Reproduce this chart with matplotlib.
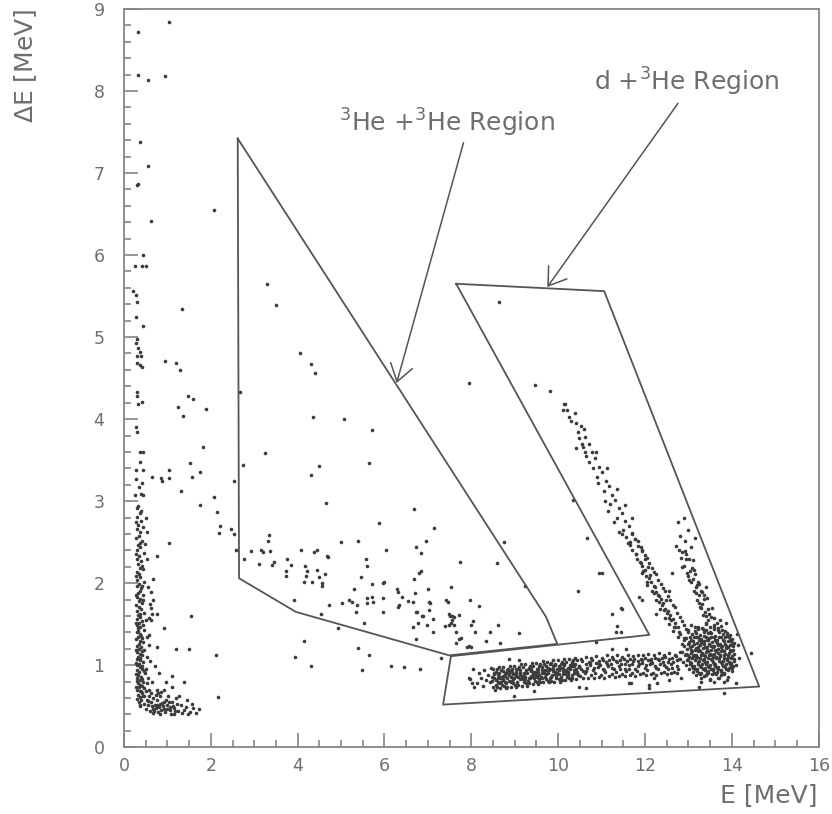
import numpy as np
import matplotlib
matplotlib.use('Agg')
import matplotlib.pyplot as plt
from matplotlib.ticker import MultipleLocator

# ---- data: (E [MeV], dE [MeV]) ----
far_left = [(1.04,8.84),(0.32,8.72),(0.32,8.19),(0.55,8.13),(0.94,8.18),(0.37,7.38),(0.55,7.09),
    (0.30,6.85),(0.33,6.87),(0.62,6.42),(2.07,6.55),(0.44,6.00),(0.25,5.87),(0.41,5.87),(0.50,5.87),
    (0.21,5.56),(0.28,5.51),(0.30,5.43),(0.28,5.24),(0.44,5.13),(0.30,4.98),(0.28,4.93),(0.32,4.87),
    (0.37,4.82),(0.30,4.77),(0.39,4.77),(0.30,4.68),(0.37,4.66),(0.41,4.63),(1.34,5.34),(0.94,4.71),
    (1.20,4.68),(1.29,4.60),(0.30,4.33),(0.30,4.28),(0.32,4.18),(0.41,4.21),(1.47,4.28),(1.59,4.24),
    (1.24,4.15),(1.36,4.04),(1.89,4.12),(0.28,3.90),(0.30,3.84),(1.82,3.66),(0.37,3.60),(0.44,3.60),
    (0.37,3.48),(1.52,3.46),(0.28,3.38),(0.44,3.38),(1.04,3.38),(0.65,3.29),(0.85,3.28),(0.88,3.24),
    (1.04,3.28),(1.57,3.30),(1.75,3.35),(0.28,3.27),(0.35,3.17),(0.41,3.22),(0.39,3.09),(0.44,3.07),
    (0.25,3.07),(1.31,3.12),(2.53,3.24),(2.07,3.05),(1.75,2.95),(2.14,2.87),(0.32,2.94),(2.21,2.70),
    (2.19,2.61),(2.47,2.66),(2.53,2.60),(1.04,2.49),(2.58,2.41),(2.76,2.30),(0.62,1.89),(0.67,1.80),
    (0.60,1.75),(0.65,1.63),(0.76,1.62),(0.62,1.55),(0.92,1.45),(0.58,1.37),(0.76,1.22),(1.20,1.20),
    (1.50,1.20),(1.54,1.60),(0.71,0.99),(0.81,0.90),(1.10,0.87),(1.38,0.80),(0.97,0.79),(1.10,0.74),
    (0.76,0.70),(0.92,0.70),(0.78,0.66),(2.12,1.12),(2.17,0.61),(2.67,4.33),(2.74,3.44),(3.29,5.65),
    (3.50,5.39)]

left_band = [(0.31,2.92),(0.36,2.85),(0.29,2.81),(0.40,2.76),(0.33,2.71),(0.30,2.66),(0.38,2.63),
    (0.35,2.58),(0.28,2.55),(0.42,2.52),(0.33,2.47),(0.37,2.44),(0.30,2.40),(0.45,2.37),(0.34,2.33),
    (0.29,2.30),(0.39,2.27),(0.32,2.23),(0.36,2.19),(0.43,2.17),(0.30,2.14),(0.35,2.11),(0.38,2.07),
    (0.31,2.04),(0.47,2.02),(0.34,1.99),(0.29,1.96),(0.40,1.94),(0.36,1.91),(0.32,1.88),(0.44,1.86),
    (0.30,1.83),(0.37,1.81),(0.34,1.78),(0.41,1.76),(0.28,1.73),(0.35,1.71),(0.39,1.68),(0.31,1.66),
    (0.46,1.64),(0.33,1.61),(0.37,1.59),(0.29,1.56),(0.42,1.54),(0.35,1.52),(0.31,1.49),(0.38,1.47),
    (0.33,1.45),(0.45,1.43),(0.30,1.40),(0.36,1.38),(0.40,1.36),(0.32,1.34),(0.28,1.32),(0.37,1.30),
    (0.43,1.28),(0.34,1.26),(0.30,1.24),(0.39,1.22),(0.35,1.20),(0.47,1.18),(0.31,1.16),(0.36,1.14),
    (0.41,1.12),(0.33,1.10),(0.29,1.08),(0.38,1.06),(0.44,1.04),(0.34,1.02),(0.31,1.00),(0.37,0.98),
    (0.42,0.96),(0.30,0.94),(0.35,0.92),(0.48,0.90),(0.33,0.88),(0.39,0.86),(0.29,0.84),(0.36,0.82),
    (0.43,0.80),(0.32,0.78),(0.38,0.76),(0.34,0.74),(0.46,0.72),(0.30,0.70),(0.37,0.68),(0.41,0.66),
    (0.33,0.64),(0.36,0.61),(0.40,0.58),(0.34,0.55),(0.38,0.52),
    (0.40,2.88),(0.27,2.74),(0.44,2.68),(0.38,2.49),(0.27,2.36),(0.41,2.21),(0.27,2.09),(0.42,1.97),
    (0.27,1.85),(0.43,1.79),(0.38,1.63),(0.27,1.51),(0.43,1.49),(0.33,1.42),(0.42,1.33),(0.27,1.19),
    (0.42,1.17),(0.38,1.09),(0.27,1.03),(0.41,0.99),(0.45,0.93),(0.27,0.89),(0.41,0.83),(0.31,0.81),
    (0.27,0.73),(0.42,0.75),(0.39,0.69),(0.44,0.62),(0.31,0.59),(0.36,0.50),
    (0.52,2.30),(0.55,1.95),(0.58,1.58),(0.62,1.70),(0.50,1.55),(0.53,1.35),(0.57,1.25),(0.54,1.10),
    (0.60,1.05),(0.51,0.95),(0.56,0.85),(0.65,0.80),(0.52,0.78),(0.50,0.68),(0.58,0.70),(0.66,2.05),
    (0.75,2.33),(0.48,2.48),(0.52,2.62),(0.50,2.80)]

left_blob = [(0.45,0.62),(0.52,0.58),(0.58,0.63),(0.63,0.55),(0.68,0.60),(0.71,0.52),(0.75,0.57),
    (0.80,0.49),(0.84,0.62),(0.88,0.54),(0.92,0.47),(0.96,0.58),(1.00,0.51),(1.05,0.45),(1.10,0.55),
    (1.15,0.48),(1.20,0.60),(1.25,0.44),(1.31,0.52),(1.38,0.46),(1.45,0.57),(1.52,0.43),(1.60,0.48),
    (1.67,0.42),(0.50,0.47),(0.55,0.51),(0.60,0.44),(0.66,0.47),(0.70,0.44),(0.74,0.48),(0.78,0.43),
    (0.82,0.53),(0.86,0.45),(0.90,0.50),(0.95,0.43),(0.99,0.47),(1.03,0.55),(1.08,0.41),(1.13,0.50),
    (1.18,0.44),(1.23,0.53),(1.34,0.42),(1.42,0.49),(1.57,0.53),(1.72,0.47),(0.62,0.66),(0.73,0.64),
    (0.86,0.67),(1.02,0.63),(1.27,0.62),(0.47,0.53),(0.56,0.56),(0.64,0.50),(0.77,0.52),(0.93,0.55),
    (1.06,0.49),(1.16,0.41),(1.48,0.41),(0.68,0.42),(0.83,0.41)]

he3_region = [(4.06,4.80),(4.31,4.67),(4.40,4.56),(4.35,4.02),(5.07,4.00),(5.71,3.87),(3.25,3.59),
    (4.49,3.43),(4.31,3.32),(5.65,3.46),(4.65,2.98),(6.68,2.91),(5.88,2.73),(7.14,2.67),(2.93,2.39),
    (3.16,2.41),(3.20,2.38),(3.36,2.39),(3.34,2.59),(3.32,2.52),(3.11,2.23),(3.41,2.22),(3.46,2.26),
    (3.76,2.29),(3.85,2.22),(3.73,2.15),(3.73,2.09),(4.08,2.41),(4.38,2.38),(4.45,2.40),(4.17,2.21),
    (4.22,2.15),(4.19,2.09),(4.15,2.01),(4.33,2.01),(4.45,2.16),(4.49,2.07),(4.56,2.00),(4.63,2.11),
    (4.56,1.96),(3.92,1.79),(6.96,2.52),(5.00,2.50),(5.39,2.51),(4.68,2.33),(4.70,2.32),(6.04,2.40),
    (6.73,2.44),(6.84,2.37),(5.58,2.29),(5.60,2.21),(5.46,2.07),(7.74,2.26),(8.59,2.24),(8.76,2.50),
    (6.84,2.15),(6.80,2.12),(6.68,2.05),(5.71,1.99),(5.97,2.00),(5.30,1.93),(6.29,1.93),(6.31,1.89),
    (6.41,1.83),(6.71,1.88),(6.66,1.77),(6.54,1.78),(7.00,1.93),(7.03,1.77),(7.05,1.76),(7.53,1.95),
    (7.42,1.80),(7.47,1.77),(7.97,1.79),(8.18,1.72),(9.24,1.96),(4.72,1.73),(5.02,1.76),(5.18,1.79),
    (5.25,1.77),(5.37,1.74),(5.60,1.82),(5.60,1.76),(5.71,1.83),(5.74,1.77),(5.97,1.82),(5.97,1.65),
    (6.34,1.74),(6.31,1.71),(6.75,1.65),(6.87,1.60),(7.03,1.67),(7.49,1.63),(7.56,1.60),(7.72,1.61),
    (7.51,1.60),(4.54,1.63),(5.35,1.65),(5.99,2.01),(6.73,1.65),(6.89,1.60),(6.98,1.49),(7.12,1.56),
    (7.56,1.55),(7.60,1.59),(7.53,1.51),(7.49,1.49),(7.40,1.48),(7.60,1.49),(6.66,1.46),(6.77,1.51),
    (7.12,1.41),(7.65,1.41),(7.76,1.33),(7.90,1.22),(7.65,1.27),(6.73,1.32),(5.39,1.21),(5.53,1.51),
    (4.93,1.45),(4.15,1.29),(8.04,1.54),(7.99,1.49),(8.62,1.49),(8.43,1.40),(8.09,1.40),(9.10,1.39),
    (7.72,1.32),(7.95,1.23),(7.99,1.22),(8.34,1.30),(8.66,1.27),
    (7.30,1.09),(6.15,0.99),(6.45,0.98),(6.82,0.95),(5.48,0.94),(5.65,1.12),(3.94,1.10),(4.31,0.99)]

d_sparse = [(8.64,5.43),(7.95,4.44),(9.47,4.41),(9.82,4.34),(10.14,4.18),(10.21,4.11),(10.12,4.11),
    (10.48,3.77),(10.41,3.65),(10.62,3.60),(10.46,1.91),(10.94,2.13),(11.01,2.13),(11.24,1.63),
    (11.34,1.40),(11.36,1.48),(11.45,1.40),(11.47,1.68),(10.35,3.02),(10.66,2.55)]

band = [(7.98,0.83),(8.05,0.96),(8.12,0.78),(8.18,0.90),(8.22,0.85),(8.28,0.75),(8.30,0.94),
    (8.34,0.82),(8.38,0.88),(8.42,0.79),(8.45,0.97),(8.48,0.86),
    (8.51,0.73),(8.48,0.81),(8.52,0.89),(8.49,0.96),(8.56,0.76),(8.53,0.85),(8.57,0.92),(8.54,0.70),
    (8.61,0.80),(8.58,0.73),(8.62,0.88),(8.59,0.95),(8.66,0.72),(8.63,0.91),(8.67,0.84),(8.64,0.98),
    (8.71,0.76),(8.68,0.94),(8.72,0.87),(8.69,0.79),(8.76,0.75),(8.73,0.83),(8.77,0.91),(8.74,0.98),
    (8.81,0.78),(8.78,0.87),(8.82,0.94),(8.79,0.72),(8.86,0.81),(8.83,0.74),(8.87,0.89),(8.84,0.96),
    (8.91,0.74),(8.88,0.93),(8.92,0.86),(8.89,0.99),(8.96,0.78),(8.93,0.96),(8.97,0.89),(8.94,0.81),
    (9.01,0.76),(8.98,0.84),(9.02,0.92),(8.99,0.99),(9.06,0.80),(9.03,0.89),(9.07,0.96),(9.04,0.74),
    (9.11,0.83),(9.08,0.76),(9.12,0.91),(9.09,0.98),(9.16,0.75),(9.13,0.94),(9.17,0.87),(9.14,1.01),
    (9.21,0.80),(9.18,0.98),(9.22,0.91),(9.19,0.83),(9.26,0.78),(9.23,0.86),(9.27,0.94),(9.24,1.01),
    (9.31,0.81),(9.28,0.90),(9.32,0.97),(9.29,0.75),(9.36,0.85),(9.33,0.78),(9.37,0.93),(9.34,0.99),
    (9.41,0.77),(9.38,0.96),(9.42,0.89),(9.39,1.03),(9.46,0.81),(9.43,0.99),(9.47,0.92),(9.44,0.84),
    (9.51,0.80),(9.48,0.88),(9.52,0.96),(9.49,1.03),(9.56,0.83),(9.53,0.92),(9.57,0.99),(9.54,0.77),
    (9.61,0.86),(9.58,0.79),(9.62,0.94),(9.59,1.01),(9.66,0.79),(9.63,0.98),(9.67,0.91),(9.64,1.05),
    (9.71,0.83),(9.68,1.01),(9.72,0.94),(9.69,0.86),(9.76,0.81),(9.73,0.89),(9.77,0.97),(9.74,1.04),
    (9.81,0.85),(9.78,0.94),(9.82,1.01),(9.79,0.79),(9.86,0.88),(9.83,0.81),(9.87,0.96),(9.84,1.03),
    (9.91,0.80),(9.88,0.99),(9.92,0.92),(9.89,1.06),(9.96,0.84),(9.93,1.02),(9.97,0.95),(9.94,0.87),
    (10.01,0.83),(9.98,0.91),(10.02,0.99),(9.99,1.06),(10.06,0.86),(10.03,0.95),(10.07,1.02),(10.04,0.80),
    (10.11,0.89),(10.08,0.82),(10.12,0.97),(10.09,1.04),(10.16,0.82),(10.13,1.01),(10.17,0.94),(10.14,1.08),
    (10.21,0.86),(10.18,1.04),(10.22,0.97),(10.19,0.89),(10.26,0.84),(10.23,0.92),(10.27,1.00),(10.24,1.07),
    (10.31,0.88),(10.28,0.97),(10.32,1.04),(10.29,0.82),(10.36,0.91),(10.33,0.84),(10.37,0.99),(10.34,1.06),
    (10.41,0.83),(10.38,1.02),(10.42,0.95),(10.39,1.09),(10.46,0.88),(10.43,1.06),(10.47,0.99),(10.44,0.91),
    (10.51,0.87),(10.49,0.99),(10.52,1.08),(10.57,0.93),(10.55,1.05),(10.58,0.84),(10.63,1.02),(10.61,0.90),
    (10.64,1.10),(10.69,0.85),(10.67,0.97),(10.70,1.04),(10.75,0.88),(10.73,1.00),(10.76,1.09),(10.81,0.94),
    (10.79,1.06),(10.82,0.85),(10.87,1.03),(10.85,0.91),(10.88,1.11),(10.93,0.86),(10.91,0.98),(10.94,1.05),
    (10.99,0.88),(10.97,1.00),(11.00,1.09),(11.05,0.94),(11.03,1.06),(11.06,0.85),(11.11,1.04),(11.09,0.92),
    (11.12,1.12),(11.17,0.87),(11.15,0.99),(11.18,1.06),(11.23,0.89),(11.21,1.01),(11.24,1.10),(11.29,0.95),
    (11.27,1.07),(11.30,0.86),(11.35,1.04),(11.33,0.92),(11.36,1.12),(11.41,0.87),(11.39,0.99),(11.42,1.06),
    (11.47,0.89),(11.45,1.01),(11.48,1.10),(11.53,0.96),(11.51,1.08),(11.54,0.87),(11.59,1.05),(11.57,0.93),
    (11.60,1.13),(11.65,0.88),(11.63,1.00),(11.66,1.07),(11.71,0.90),(11.69,1.02),(11.72,1.11),(11.77,0.96),
    (11.75,1.08),(11.78,0.87),(11.83,1.05),(11.81,0.93),(11.84,1.13),(11.89,0.89),(11.87,1.01),(11.90,1.08),
    (11.95,0.91),(11.93,1.03),(11.96,1.12),(12.01,0.97),(11.99,1.09),(12.02,0.88),(12.07,1.06),(12.05,0.94),
    (12.08,1.14),(12.13,0.89),(12.11,1.01),(12.14,1.08),(12.19,0.91),(12.17,1.03),(12.20,1.12),(12.25,0.97),
    (12.23,1.09),(12.26,0.88),(12.31,1.07),(12.29,0.95),(12.32,1.15),(12.37,0.90),(12.35,1.02),(12.38,1.09),
    (12.43,0.92),(12.41,1.04),(12.44,1.13),(12.49,0.98),(12.47,1.10),(12.50,0.89),(12.55,1.07),(12.53,0.95),
    (12.56,1.15),(12.61,0.90),(12.59,1.02),(12.62,1.09),(12.67,0.92),(12.65,1.04),(12.68,1.13),(12.73,0.99),
    (12.71,1.11),(12.74,0.90),(12.79,1.08),(12.77,0.96),(12.80,1.16),
    (10.88,1.28),(11.24,1.20),(11.57,1.20),(8.87,1.08),(9.10,1.06),(8.99,0.63),(9.45,0.69),(10.48,0.73),
    (10.64,0.72),(7.95,0.85),(8.02,0.78),(8.06,0.73),(11.64,0.78),(12.10,0.76),(12.28,0.78),(12.56,0.82),
    (11.68,0.78),(12.10,0.72),(12.83,0.85),(12.21,0.84)]

band_core = [(8.57,0.82),(8.53,0.90),(8.67,0.86),(8.63,0.78),(8.77,0.80),(8.73,0.93),(8.87,0.88),
    (8.83,0.84),(8.97,0.83),(8.93,0.92),(9.07,0.86),(9.03,0.95),(9.17,0.84),(9.13,0.90),(9.27,0.92),
    (9.23,0.83),(9.37,0.87),(9.33,0.95),(9.47,0.90),(9.43,0.86),(9.57,0.88),(9.53,0.96),(9.67,0.94),
    (9.63,0.85),(9.77,0.90),(9.73,0.99),(9.87,0.93),(9.83,0.86),(9.97,0.91),(9.93,1.00),(10.07,0.97),
    (10.03,0.89),(10.17,0.92),(10.13,1.00),(10.27,0.96),(10.23,0.88),(10.37,0.94),(10.33,1.02),
    (10.47,0.98),(10.43,0.92),
    (8.52,0.84),(8.62,0.85),(8.72,0.82),(8.82,0.90),(8.92,0.80),(9.02,0.87),(9.12,0.88),(9.22,0.87),
    (9.32,0.84),(9.42,0.92),(9.52,0.86),(9.62,0.90),(9.72,0.89),(9.82,0.96),(9.92,0.89),(10.02,0.94),
    (10.12,0.93),(10.22,0.91),(10.32,0.99),(10.42,0.90),
    (10.53,0.96),(10.63,0.93),(10.73,1.03),(10.83,0.97),(10.93,1.01),(11.03,0.96),(11.13,1.02),
    (11.23,0.97),(11.33,1.05),(11.43,0.95),(11.53,1.02),(11.63,0.96),(11.73,1.05),(11.83,0.99),
    (11.93,1.06),(12.03,1.00),(12.13,1.05),(12.23,0.99),(12.33,1.06),(12.43,1.00),(12.53,1.04),
    (12.63,0.97),(12.73,1.06)]

stream = [(10.15,4.18),(10.38,4.08),(10.30,3.98),(10.52,3.92),(10.45,3.84),(10.62,3.78),(10.70,3.70),
    (10.58,3.66),(10.78,3.60),(10.85,3.52),(10.72,3.48),(10.95,3.42),(11.02,3.35),(10.90,3.30),
    (11.10,3.25),(11.18,3.18),(11.05,3.12),(11.25,3.08),(11.32,3.02),(11.20,2.96),(11.40,2.92),
    (11.48,2.85),(11.35,2.80),(11.55,2.76),(11.62,2.70),(11.50,2.65),(11.70,2.60),(11.78,2.54),
    (11.65,2.50),(11.85,2.45),(11.92,2.40),(11.80,2.35),(12.00,2.30),(11.90,2.24),(12.08,2.20),
    (11.95,2.15),(12.12,2.10),(12.05,2.02),(12.22,1.95),(12.15,1.90),(12.32,1.84),(12.25,1.80),
    (12.40,1.74),(12.35,1.68),(12.50,1.64),(12.45,1.58),(12.60,1.55),(12.55,1.50),(12.70,1.47),
    (12.65,1.42),(12.80,1.38),(12.75,1.34),(12.90,1.31),(12.85,1.26),
    (11.87,1.83),(11.94,1.79),(12.26,1.63),(11.45,1.70),(11.94,2.12),(12.05,1.98),(12.21,1.88),
    (12.33,1.77),(12.44,1.67),(12.56,1.57),(12.67,1.46),(12.79,1.40),(12.90,1.33),(13.02,1.27),
    (10.25,4.02),(10.40,3.95),(10.55,3.70),(10.65,3.55),(10.80,3.40),(10.92,3.22),(11.08,3.00),
    (11.15,2.88),(11.28,2.75),(11.40,2.62),(10.60,3.88),(10.88,3.60),(11.12,3.40),(11.35,3.15),
    (11.55,2.95),(11.70,2.80)]

stream_wide = [(11.48,2.60),(11.71,2.61),(11.56,2.56),(11.78,2.54),(11.60,2.49),(11.83,2.51),
    (11.66,2.46),(11.90,2.44),(11.70,2.41),(11.94,2.39),(11.79,2.36),(12.00,2.34),(11.82,2.29),
    (12.04,2.31),(11.88,2.26),(12.10,2.24),(11.92,2.21),(12.16,2.19),(12.00,2.16),(12.20,2.14),
    (12.03,2.09),(12.26,2.11),(12.10,2.06),(12.31,2.04),(12.14,2.01),(12.36,1.99),(12.21,1.96),
    (12.41,1.94),(12.25,1.89),(12.47,1.91),(12.31,1.86),(12.52,1.84),(12.36,1.81),(12.58,1.79),
    (12.42,1.76),(12.64,1.74),(12.47,1.69),(12.68,1.71),(12.53,1.66),(12.74,1.64),(12.58,1.61),
    (12.80,1.59),(12.64,1.56),(12.85,1.54),(12.70,1.51),(12.90,1.49),(12.75,1.46),(12.95,1.44)]

right_stream = [(12.63,2.12),(12.56,1.91),(12.49,1.79),(12.86,2.20),(12.97,2.12),(13.02,2.04),
    (13.18,1.88),(13.29,1.91),(13.41,1.95),(13.43,1.82),(13.25,1.76),(13.48,1.63),(13.66,1.52),
    (13.87,1.51),(12.72,2.45),(12.85,2.38),(12.95,2.30),(12.80,2.58),(12.92,2.52),(13.05,2.44),
    (13.10,2.28),(13.00,2.65),(13.15,2.55),(13.12,2.16),(13.22,2.02),(13.35,1.85),(13.30,1.70),
    (13.40,1.60),(13.55,1.70),(13.60,1.58),(13.72,1.55),(13.20,1.98),(12.75,2.75),(12.90,2.80),
    (12.78,2.41),(12.93,2.39),(12.84,2.31),(13.01,2.29),(12.90,2.21),(13.08,2.19),(12.98,2.09),
    (13.15,2.11),(13.05,2.01),(13.24,1.99),(13.12,1.91),(13.31,1.89),(13.19,1.79),(13.37,1.81),
    (13.26,1.71),(13.45,1.69),(13.34,1.61),(13.52,1.59),(13.41,1.51),(13.60,1.49),(12.95,2.35),
    (13.03,2.15),(13.10,2.05),(13.17,1.95),(13.24,1.85),(13.31,1.75),(13.38,1.65),(13.46,1.55)]

cluster = [(13.05,1.49),(13.22,1.47),(13.41,1.50),(13.58,1.46),(13.76,1.48),
    (12.98,1.43),(13.14,1.42),(13.33,1.44),(13.50,1.41),(13.68,1.43),(13.85,1.42),
    (13.08,1.38),(13.26,1.37),(13.44,1.39),(13.62,1.36),(13.79,1.38),(13.95,1.37),
    (12.95,1.33),(13.12,1.34),(13.30,1.32),(13.47,1.33),(13.66,1.31),(13.84,1.34),(14.00,1.32),
    (13.02,1.28),(13.19,1.27),(13.37,1.29),(13.55,1.28),(13.72,1.26),(13.90,1.29),(14.05,1.27),
    (12.90,1.24),(13.09,1.23),(13.27,1.25),(13.43,1.22),(13.60,1.24),(13.78,1.23),(13.96,1.25),
    (12.97,1.20),(13.15,1.19),(13.33,1.21),(13.52,1.18),(13.69,1.20),(13.87,1.21),(14.03,1.19),
    (12.85,1.16),(13.05,1.15),(13.22,1.17),(13.40,1.16),(13.58,1.14),(13.75,1.17),(13.93,1.15),
    (12.92,1.12),(13.11,1.11),(13.29,1.13),(13.47,1.12),(13.64,1.10),(13.82,1.13),(14.00,1.11),
    (12.80,1.08),(13.00,1.07),(13.18,1.09),(13.36,1.08),(13.54,1.06),(13.71,1.09),(13.89,1.07),(14.06,1.08),
    (12.88,1.04),(13.07,1.03),(13.25,1.05),(13.43,1.04),(13.61,1.02),(13.79,1.05),(13.97,1.03),
    (12.95,1.00),(13.13,0.99),(13.31,1.01),(13.50,1.00),(13.68,0.98),(13.86,1.01),(14.03,0.99),
    (13.02,0.96),(13.20,0.95),(13.38,0.97),(13.57,0.96),(13.75,0.94),(13.93,0.97),
    (13.10,0.92),(13.28,0.91),(13.46,0.93),(13.65,0.92),(13.83,0.90),(14.00,0.93),
    (13.18,0.88),(13.36,0.87),(13.55,0.89),(13.74,0.88),(13.92,0.86),
    (13.30,0.84),(13.50,0.83),(13.70,0.85),(13.88,0.82),
    (13.14,1.46),(13.32,1.45),(13.50,1.47),(13.67,1.45),
    (13.17,1.35),(13.35,1.36),(13.53,1.34),(13.71,1.35),(13.88,1.36),
    (13.10,1.30),(13.28,1.30),(13.46,1.31),(13.64,1.29),(13.81,1.30),(13.98,1.30),
    (13.00,1.26),(13.18,1.21),(13.36,1.26),(13.51,1.23),(13.69,1.25),(13.87,1.24),(14.02,1.23),
    (13.06,1.18),(13.24,1.19),(13.42,1.18),(13.61,1.19),(13.78,1.19),(13.96,1.18),
    (12.95,1.14),(13.13,1.13),(13.31,1.15),(13.49,1.14),(13.67,1.15),(13.85,1.14),(14.04,1.14),
    (13.02,1.10),(13.20,1.10),(13.38,1.11),(13.56,1.10),(13.73,1.11),(13.91,1.10),
    (12.97,1.06),(13.16,1.06),(13.34,1.06),(13.52,1.07),(13.70,1.05),(13.88,1.06),(14.05,1.05),
    (13.04,1.01),(13.22,1.02),(13.40,1.02),(13.59,1.01),(13.77,1.02),(13.95,1.02),
    (13.11,0.97),(13.29,0.98),(13.48,0.98),(13.66,0.97),(13.84,0.98),(14.01,0.97),
    (13.20,0.93),(13.38,0.94),(13.56,0.94),(13.74,0.93),(13.91,0.94),
    (13.27,0.89),(13.45,0.90),(13.64,0.89),(13.82,0.89),
    (13.29,0.79),(13.41,0.88),(13.50,0.82),(13.59,0.80),(13.69,0.85),(13.82,0.80),(14.10,0.78),
    (13.25,0.73),(13.82,0.66),(14.45,1.15),(14.17,1.09),(14.10,1.00),(14.15,1.25),(14.12,1.38)]

cluster_core = [(13.23,1.44),(13.41,1.43),(13.59,1.44),(13.77,1.43),
    (13.00,1.40),(13.17,1.39),(13.35,1.40),(13.53,1.39),(13.71,1.40),(13.89,1.39),
    (13.04,1.35),(13.22,1.35),(13.40,1.35),(13.58,1.35),(13.76,1.35),(13.93,1.35),
    (13.07,1.31),(13.25,1.31),(13.43,1.31),(13.61,1.31),(13.79,1.31),(13.95,1.31),
    (13.12,1.26),(13.30,1.27),(13.48,1.26),(13.66,1.27),(13.84,1.26),(14.00,1.26),
    (13.03,1.22),(13.21,1.22),(13.39,1.22),(13.57,1.22),(13.75,1.22),(13.92,1.22),
    (13.09,1.17),(13.27,1.17),(13.45,1.17),(13.63,1.17),(13.81,1.17),(13.99,1.17),
    (13.00,1.13),(13.18,1.13),(13.36,1.13),(13.54,1.13),(13.72,1.13),(13.90,1.13),
    (13.09,1.09),(13.27,1.09),(13.45,1.09),(13.63,1.09),(13.81,1.09),(13.98,1.09),
    (13.03,1.04),(13.21,1.04),(13.39,1.04),(13.57,1.04),(13.75,1.04),(13.93,1.04),
    (13.08,0.99),(13.26,0.99),(13.44,0.99),(13.62,0.99),(13.80,0.99),(13.97,0.99),
    (13.15,0.95),(13.33,0.95),(13.51,0.95),(13.69,0.95),(13.87,0.95),
    (13.24,0.91),(13.42,0.91),(13.60,0.91),(13.78,0.91)]

# cut regions drawn on the plot
he3_cut = [(2.62,7.42),(2.65,2.06),(3.96,1.65),(7.49,1.12),(9.98,1.26),(9.72,1.59),(2.62,7.42)]
dhe3_cut = [(7.65,5.65),(11.06,5.56),(14.63,0.74),(7.35,0.52),(7.53,1.11),(12.10,1.37),(7.65,5.65)]

x_ticks = [0, 2, 4, 6, 8, 10, 12, 14, 16]
y_ticks = [0, 1, 2, 3, 4, 5, 6, 7, 8, 9]

line_col = '#555555'
text_col = '#6e6e6e'
axis_col = '#858585'

fig = plt.figure(figsize=(8.32, 8.14), dpi=100)
ax = fig.add_axes([0.149, 0.082, 0.835, 0.907])

groups = [far_left, left_band, left_blob, he3_region, d_sparse, band, band_core,
          stream, stream_wide, right_stream, cluster, cluster_core]
for g in groups:
    pts = np.array(g)
    ax.plot(pts[:, 0], pts[:, 1], 'o', ms=2.6, mew=0, color='#3c3c3c')

for cut in (he3_cut, dhe3_cut):
    c = np.array(cut)
    ax.plot(c[:, 0], c[:, 1], '-', lw=1.3, color=line_col)

# arrows + labels
arrow_kw = dict(arrowstyle='->,head_length=0.4,head_width=0.27', lw=1.1, color=line_col,
                shrinkA=0, shrinkB=0, mutation_scale=30)
ax.annotate('', xy=(6.28, 4.44), xytext=(7.82, 7.37), arrowprops=arrow_kw)
ax.annotate('', xy=(9.75, 5.61), xytext=(12.76, 7.85), arrowprops=arrow_kw)
ax.text(4.95, 7.50, r'$^3$He +$^3$He Region', fontsize=18, color=text_col, va='baseline', ha='left')
ax.text(10.83, 8.00, r'd +$^3$He Region', fontsize=18, color=text_col, va='baseline', ha='left')

ax.set_xlim(0, 16)
ax.set_ylim(0, 9)
ax.set_xticks(x_ticks)
ax.set_yticks(y_ticks)
ax.xaxis.set_minor_locator(MultipleLocator(0.5))
ax.yaxis.set_minor_locator(MultipleLocator(0.2))
ax.tick_params(which='both', direction='in', color=axis_col, width=1.2,
               top=False, right=False, labelsize=12.5, labelcolor=text_col)
ax.tick_params(which='major', length=10)
ax.tick_params(which='minor', length=5)
ax.tick_params(axis='x', pad=7)
ax.tick_params(axis='y', pad=14)
for s in ax.spines.values():
    s.set_color(axis_col)
    s.set_linewidth(1.3)

fig.text(817 / 832, 1 - 802 / 814, 'E [MeV]', fontsize=18, color=text_col, ha='right', va='baseline')
fig.text(26 / 832, 1 - 66 / 814, r'$\Delta$E [MeV]', fontsize=18, color=text_col,
         rotation=90, ha='center', va='center')

fig.savefig('out.png', dpi=100, facecolor='white')
